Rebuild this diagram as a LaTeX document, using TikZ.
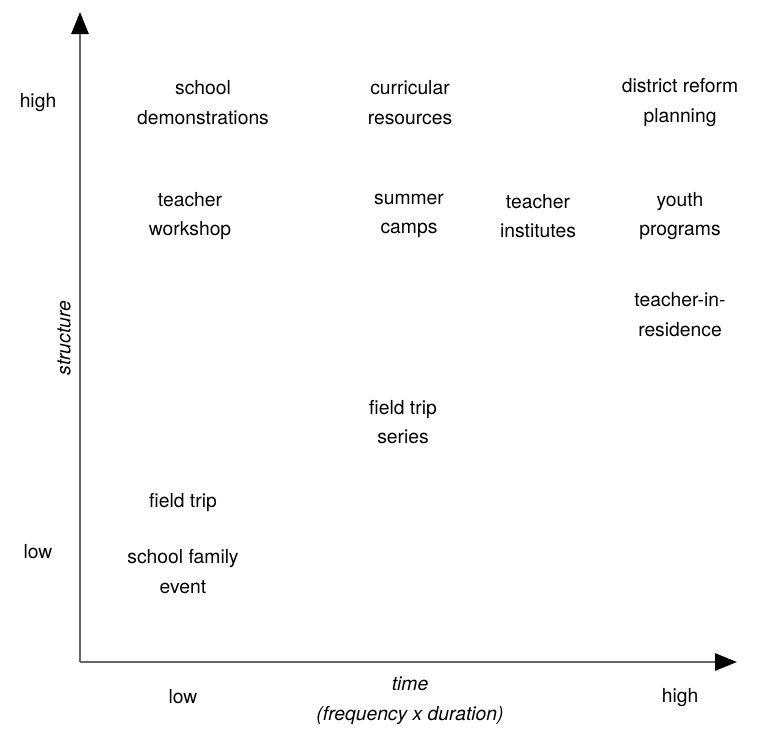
\documentclass[tikz,border=0pt]{standalone}
\usepackage{fontspec}
\setmainfont{TeX Gyre Heros}
\usetikzlibrary{arrows.meta}
\begin{document}
\begin{tikzpicture}[x=1pt,y=-1pt,
  lbl/.style={align=center,inner sep=0pt,font=\fontsize{19.3}{29.5}\selectfont,text=black},
  axis/.style={line width=2.8pt,draw=black!60,-{Triangle[length=22pt,width=17pt,color=black]}}]
\useasboundingbox (0,0) rectangle (759,729);
\coordinate (O) at (80,662);
\coordinate (ytip) at (80,12);
\coordinate (xtip) at (737,662);
\draw[axis] (O) -- (ytip);
\draw[axis] (O) -- (xtip);
\node[lbl] (yhigh) at (38,103) {high};
\node[lbl] (ylow) at (38,552) {low};
\node[lbl,rotate=90,font=\fontsize{19.3}{29.5}\selectfont\itshape] (ystruct) at (64,338) {structure};
\node[lbl] (schooldemo) at (203,102.5) {school\\demonstrations};
\node[lbl] (curric) at (410,102.5) {curricular\\resources};
\node[lbl] (district) at (680,102.5) {district reform\\planning};
\node[lbl] (workshop) at (190,216) {teacher\\workshop};
\node[lbl] (summer) at (409,216) {summer\\camps};
\node[lbl] (institutes) at (538,216) {teacher\\institutes};
\node[lbl] (youth) at (680,216) {youth\\programs};
\node[lbl] (residence) at (680,314.5) {teacher-in-\\residence};
\node[lbl] (ftseries) at (403,422) {field trip\\series};
\node[lbl] (ft) at (183,503) {field trip};
\node[lbl] (family) at (183,571.5) {school family\\event};
\node[lbl] (xlow) at (183,697) {low};
\node[lbl,font=\fontsize{19.3}{29.5}\selectfont\itshape] (xtime) at (410,701) {time\\(frequency x duration)};
\node[lbl] (xhigh) at (680,698) {high};
\end{tikzpicture}
\end{document}
